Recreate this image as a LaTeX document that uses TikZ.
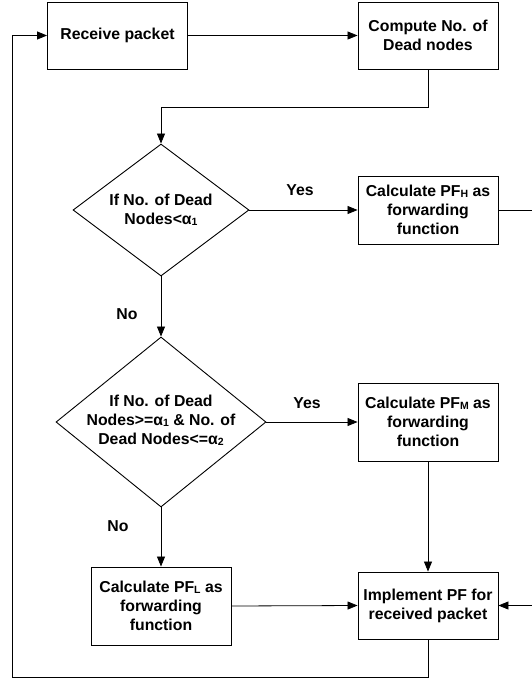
\documentclass[tikz,border=0pt]{standalone}
\usepackage{fontspec}
\setmainfont{Liberation Sans}
\usetikzlibrary{shapes.geometric,arrows.meta}
% small letter set on the baseline, as in PF_H or alpha_1
\newcommand\lowidx[1]{\raisebox{-0.6pt}{\fontsize{10.5}{10}\selectfont #1}}
\begin{document}
\begin{tikzpicture}[x=1pt,y=-1pt,
  every node/.style={font=\fontsize{15.8}{19}\selectfont\bfseries, align=center},
  procbox/.style={draw, line width=0.9pt, rectangle, minimum width=140pt, inner sep=2pt},
  decide/.style={draw, line width=0.9pt, diamond, inner sep=0pt},
  lbl/.style={inner sep=0pt},
  arr/.style={line width=0.8pt, -{Triangle[length=10pt,width=8pt]}},
  ln/.style={line width=0.8pt}]
  \fill[white] (0,0) rectangle (531,678);
  \useasboundingbox (0,0) rectangle (531,678);

  % process boxes
  \node[procbox, minimum height=67pt] (recv) at (117.5,35.5) {Receive packet};
  \node[procbox, minimum height=67pt] (comp) at (428,35.5) {Compute No. of\\Dead nodes};
  \node[procbox, minimum height=68pt] (pfh) at (428,210) {Calculate PF\lowidx{H} as\\forwarding\\function};
  \node[procbox, minimum height=78pt] (pfm) at (428,422) {Calculate PF\lowidx{M} as\\forwarding\\function};
  \node[procbox, minimum height=78pt] (pfl) at (161,606) {Calculate PF\lowidx{L} as\\forwarding\\function};
  \node[procbox, minimum height=67pt] (impl) at (428,605.5) {Implement PF for\\received packet};

  % decisions
  \node[decide, minimum width=176pt, minimum height=132pt] (d1) at (161,210) {};
  \node[lbl] (d1t) at (161,210) {If No. of Dead\\Nodes<α\lowidx{1}};
  \node[decide, minimum width=210pt, minimum height=170pt] (d2) at (161,422) {};
  \node[lbl] (d2t) at (161,420) {If No. of Dead\\Nodes>=α\lowidx{1} \& No. of\\Dead Nodes<=α\lowidx{2}};

  % branch labels
  \node[lbl] (y1) at (300,190) {Yes};
  \node[lbl] (y2) at (307,403) {Yes};
  \node[lbl] (n1) at (127,314) {No};
  \node[lbl] (n2) at (118,526) {No};

  % corners of the routed connectors
  \coordinate (j1) at (428,107);
  \coordinate (rc) at (545,210);
  \coordinate (lb) at (428,677);
  \coordinate (lc) at (12,677);

  % connectors
  \draw[arr] (recv.east) -- (comp.west);
  \draw[arr] (comp.south) -- (j1) -| (d1.north);
  \draw[arr] (d1.east) -- (pfh.west);
  \draw[arr] (d1.south) -- (d2.north);
  \draw[arr] (d2.east) -- (pfm.west);
  \draw[arr] (d2.south) -- (pfl.north);
  \draw[arr] (pfm.south) -- (impl.north);
  \draw[arr] (pfl.east) -- (impl.west);
  \draw[arr] (pfh.east) -- (rc) |- (impl.east);
  \draw[arr] (impl.south) -- (lb) -- (lc) |- (recv.west);
\end{tikzpicture}
\end{document}
